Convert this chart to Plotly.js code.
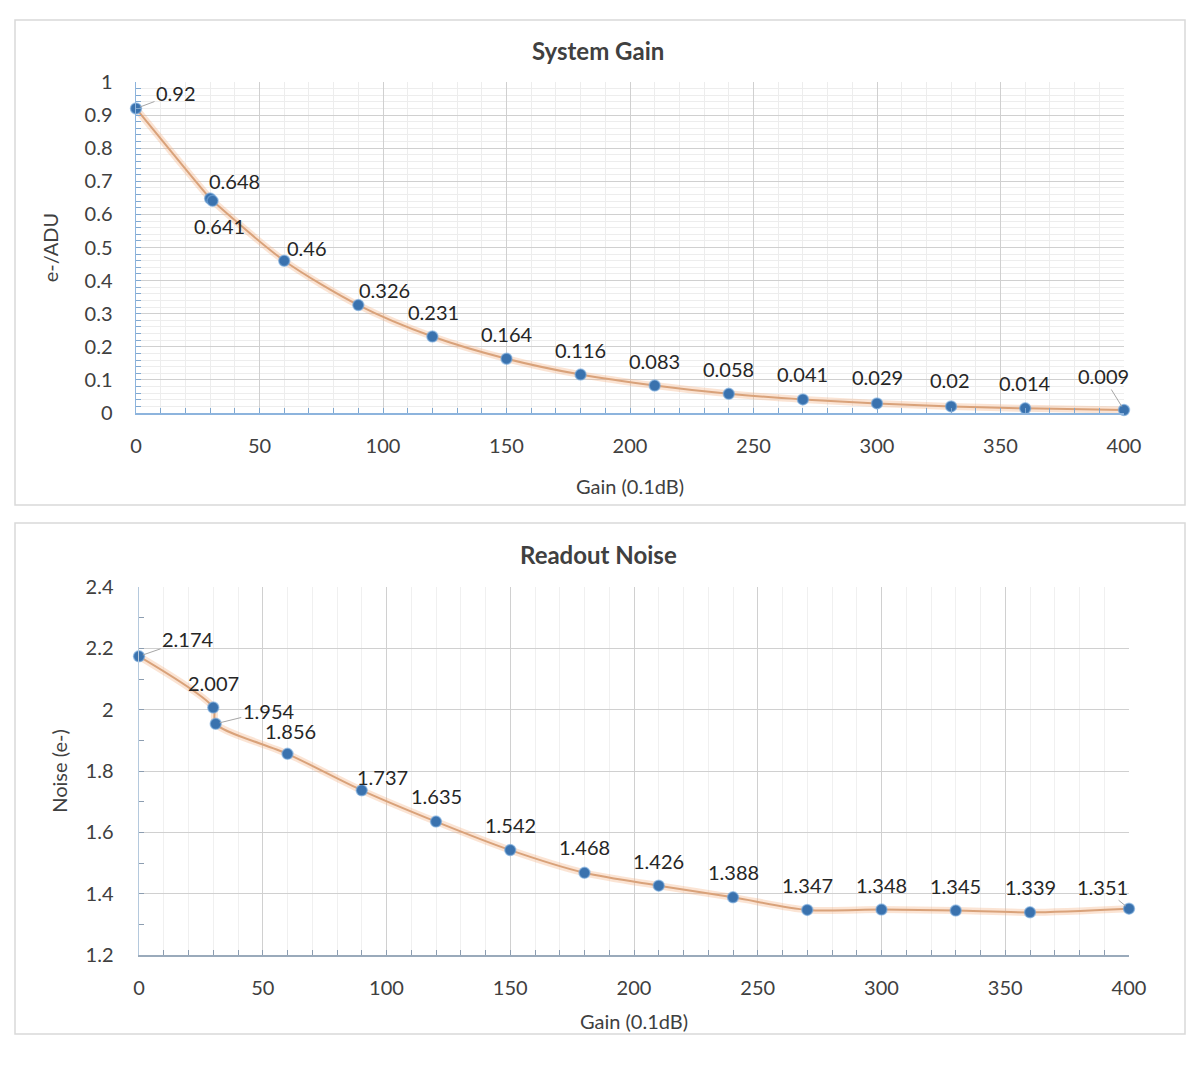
<!DOCTYPE html>
<html>
<head>
<meta charset="utf-8">
<script src="https://cdn.plot.ly/plotly-3.0.1.min.js"></script>
<style>html,body{margin:0;padding:0;background:#fff;}#chart{width:1200px;height:1068px;}</style>
</head>
<body>
<div id="chart"></div>
<script>
// ---- data ----
const gain = [0, 30, 31, 60, 90, 120, 150, 180, 210, 240, 270, 300, 330, 360, 400];
const systemGain = [0.92, 0.648, 0.641, 0.46, 0.326, 0.231, 0.164, 0.116, 0.083, 0.058, 0.041, 0.029, 0.02, 0.014, 0.009];
const readNoise = [2.174, 2.007, 1.954, 1.856, 1.737, 1.635, 1.542, 1.468, 1.426, 1.388, 1.347, 1.348, 1.345, 1.339, 1.351];
const sgLabels = ["0.92", "0.648", "0.641", "0.46", "0.326", "0.231", "0.164", "0.116", "0.083", "0.058", "0.041", "0.029", "0.02", "0.014", "0.009"];
const rnLabels = ["2.174", "2.007", "1.954", "1.856", "1.737", "1.635", "1.542", "1.468", "1.426", "1.388", "1.347", "1.348", "1.345", "1.339", "1.351"];
const titleTop = "System Gain";
const titleBottom = "Readout Noise";
const xTitle = "Gain (0.1dB)";
const yTitleTop = "e-/ADU";
const yTitleBottom = "Noise (e-)";

// ---- label placement (pixel offsets, leader flag) ----
const sgOffsets = [[40,-15,1],[24,-18,0],[7,25,0],[23,-13,0],[26,-15,0],[1,-25,0],[0,-25,0],[0,-25,0],[0,-25,0],[0,-25,0],[0,-25,0],[0,-26,0],[-1,-26,0],[0,-25,0],[-21,-34,1]];
const rnOffsets = [[49,-17,1],[0,-25,0],[53,-13,1],[3,-23,0],[21,-13,0],[0,-26,0],[0,-25,0],[0,-26,0],[0,-25,0],[0,-25,0],[0,-25,0],[0,-25,0],[0,-25,0],[0,-25,0],[-27,-22,1]];

const FONT = "Lato, 'Open Sans', sans-serif";
const TXT = "#404040";
const LINE = "#D9A27A";
const HALO = "rgba(244,177,131,0.35)";
const MARK = "#3A72AE";

function series(x, y, xa, ya) {
  return [
    {x: x, y: y, xaxis: xa, yaxis: ya, type: "scatter", mode: "lines", cliponaxis: false,
     line: {color: HALO, width: 7, shape: "spline", smoothing: 0.8}, hoverinfo: "skip", showlegend: false},
    {x: x, y: y, xaxis: xa, yaxis: ya, type: "scatter", mode: "lines+markers", cliponaxis: false,
     line: {color: LINE, width: 2, shape: "spline", smoothing: 0.8},
     marker: {color: MARK, size: 11, line: {color: "rgba(120,170,220,0.6)", width: 1.5}},
     showlegend: false}
  ];
}

const data = [].concat(series(gain, systemGain, "x", "y"), series(gain, readNoise, "x2", "y2"));

function labels(x, y, txt, offs, xa, ya) {
  return x.map((xv, i) => {
    const o = offs[i];
    const a = {x: xv, y: y[i], xref: xa, yref: ya, text: txt[i],
      font: {family: FONT, size: 20, color: "#262626"}};
    if (o[2]) {
      Object.assign(a, {showarrow: true, arrowhead: 0, arrowwidth: 1, arrowcolor: "#A6A6A6",
        ax: o[0], ay: o[1], standoff: 4});
    } else {
      Object.assign(a, {showarrow: false, xshift: o[0], yshift: -o[1]});
    }
    return a;
  });
}

const annotations = [].concat(
  labels(gain, systemGain, sgLabels, sgOffsets, "x", "y"),
  labels(gain, readNoise, rnLabels, rnOffsets, "x2", "y2"),
  [
    {text: "<b>" + titleTop + "</b>", xref: "paper", yref: "paper", x: 598/1200, y: 1 - 50/1068,
     xanchor: "center", yanchor: "middle",
     showarrow: false, font: {family: FONT, size: 24, color: "#404040"}},
    {text: "<b>" + titleBottom + "</b>", xref: "paper", yref: "paper", x: 598/1200, y: 1 - 554/1068,
     xanchor: "center", yanchor: "middle",
     showarrow: false, font: {family: FONT, size: 24, color: "#404040"}}
  ]
);

const tickFont = {family: FONT, size: 20, color: TXT};
const titleFont = {family: FONT, size: 20, color: TXT};

const layout = {
  width: 1200, height: 1068,
  margin: {l: 0, r: 0, t: 0, b: 0},
  paper_bgcolor: "#fff", plot_bgcolor: "#fff",
  showlegend: false,
  xaxis: {
    domain: [136/1200, 1124/1200], anchor: "y", range: [0, 400],
    tickvals: [0,50,100,150,200,250,300,350,400],
    ticks: "inside", ticklen: 5, tickcolor: "#7FA7CF",
    showline: true, linecolor: "#8DB4DD", linewidth: 1.5,
    showgrid: true, gridcolor: "#D0D0D0", gridwidth: 1, zeroline: false,
    minor: {dtick: 10, ticks: "inside", ticklen: 5, tickcolor: "#7FA7CF", showgrid: true, gridcolor: "#EDEDED"},
    tickfont: tickFont, ticklabelstandoff: 14,
    title: {text: xTitle, font: titleFont, standoff: 24}
  },
  yaxis: {
    domain: [1 - 413/1068, 1 - 82/1068], anchor: "x", range: [0, 1],
    dtick: 0.1, tickformat: "~g",
    ticks: "inside", ticklen: 5, tickcolor: "#7FA7CF",
    showline: true, linecolor: "#8DB4DD", linewidth: 1.5,
    showgrid: true, gridcolor: "#D0D0D0", gridwidth: 1, zeroline: false,
    minor: {dtick: 0.02, ticks: "inside", ticklen: 5, tickcolor: "#7FA7CF", showgrid: true, gridcolor: "#EDEDED"},
    tickfont: tickFont, ticklabelstandoff: 18,
    title: {text: yTitleTop, font: titleFont, standoff: 20}
  },
  xaxis2: {
    domain: [139/1200, 1129/1200], anchor: "y2", range: [0, 400],
    tickvals: [0,50,100,150,200,250,300,350,400],
    ticks: "inside", ticklen: 5, tickcolor: "#8C9DB0",
    showline: true, linecolor: "#9AAABB", linewidth: 1.5,
    showgrid: true, gridcolor: "#D0D0D0", gridwidth: 1, zeroline: false,
    minor: {dtick: 10, ticks: "inside", ticklen: 5, tickcolor: "#8C9DB0", showgrid: true, gridcolor: "#F0F0F0"},
    tickfont: tickFont, ticklabelstandoff: 14,
    title: {text: xTitle, font: titleFont, standoff: 17}
  },
  yaxis2: {
    domain: [1 - 955/1068, 1 - 587/1068], anchor: "x2", range: [1.2, 2.4],
    dtick: 0.2, tickformat: "~g",
    ticks: "inside", ticklen: 5, tickcolor: "#8C9DB0",
    showline: true, linecolor: "#B5C9DD", linewidth: 1.5,
    showgrid: true, gridcolor: "#D0D0D0", gridwidth: 1, zeroline: false,
    minor: {dtick: 0.1, ticks: "inside", ticklen: 5, tickcolor: "#8C9DB0", showgrid: false},
    tickfont: tickFont, ticklabelstandoff: 20,
    title: {text: yTitleBottom, font: titleFont, standoff: 12}
  },
  annotations: annotations,
  shapes: [
    {type: "rect", xref: "paper", yref: "paper", x0: 15/1200, x1: 1185/1200, y0: 1 - 505/1068, y1: 1 - 20/1068,
     line: {color: "#D9D9D9", width: 1.5}, fillcolor: "rgba(0,0,0,0)", layer: "below"},
    {type: "rect", xref: "paper", yref: "paper", x0: 15/1200, x1: 1185/1200, y0: 1 - 1034/1068, y1: 1 - 523/1068,
     line: {color: "#D9D9D9", width: 1.5}, fillcolor: "rgba(0,0,0,0)", layer: "below"}
  ]
};

Plotly.newPlot("chart", data, layout, {staticPlot: true, displayModeBar: false});
</script>
</body>
</html>
